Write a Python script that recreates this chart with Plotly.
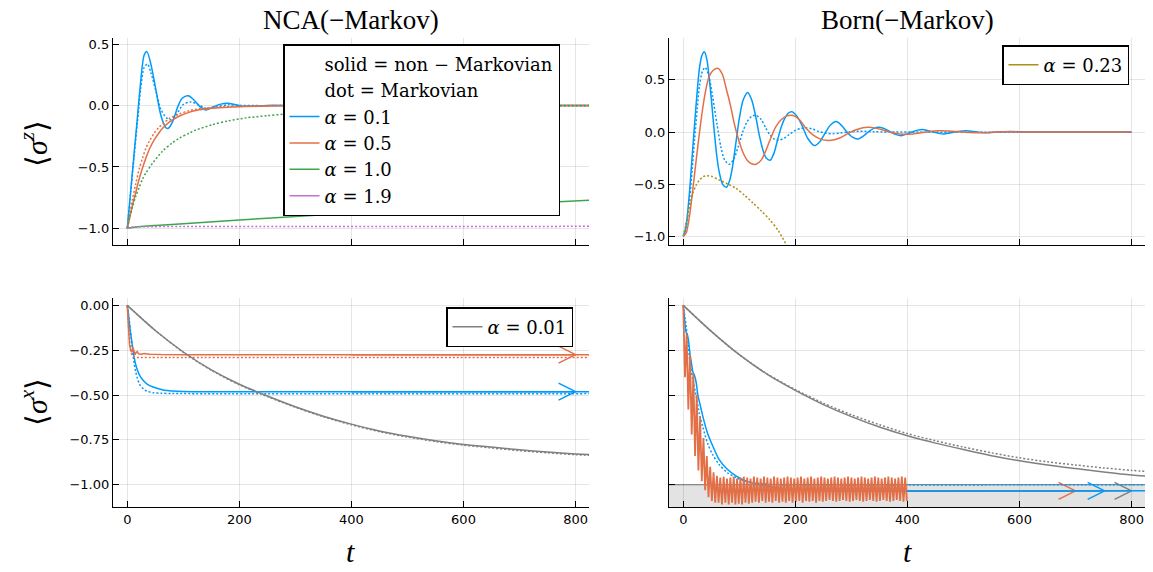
import plotly.graph_objects as go
from plotly.subplots import make_subplots

# ---------------- data ----------------
# Panel 1: NCA, <sigma^z>
nca_z_t_a01 = [0, 6, 12, 18, 24, 30, 35, 42, 51, 60, 69, 73, 81, 90, 98, 109, 119, 130, 140, 152,
               165, 179, 193, 206, 230, 260, 300, 400, 600, 830]
nca_z_a01 = [-1.0, -0.70, -0.40, -0.10, 0.20, 0.41, 0.44, 0.34, 0.13, -0.08, -0.18, -0.185, -0.13,
             -0.01, 0.06, 0.08, 0.046, -0.01, -0.035, -0.012, 0.01, 0.02, 0.008, -0.005, -0.004,
             0.002, 0.0, 0.0, 0.0, 0.0]
nca_z_t_a01_m = [0, 6, 12, 18, 24, 30, 36, 42, 51, 60, 70, 78, 88, 100, 113, 128, 143, 160, 180, 200,
                 230, 300, 830]
nca_z_a01_m = [-1.0, -0.71, -0.42, -0.14, 0.14, 0.31, 0.34, 0.27, 0.12, -0.03, -0.10, -0.115, -0.07,
               0.01, 0.03, 0.005, -0.025, -0.01, 0.008, 0.002, 0.0, 0.0, 0.0]
nca_z_t_a05 = [0, 5, 10, 15, 21, 27, 33, 40, 48, 56, 63, 75, 93, 110, 122, 140, 152, 180, 212, 250,
               320, 400, 830]
nca_z_a05 = [-1.0, -0.90, -0.80, -0.71, -0.60, -0.51, -0.43, -0.35, -0.28, -0.225, -0.185, -0.135,
             -0.085, -0.055, -0.04, -0.028, -0.022, -0.013, -0.008, -0.004, -0.001, 0.0, 0.0]
nca_z_t_a05_m = [0, 5, 9, 15, 21, 27, 33, 40, 48, 56, 63, 75, 93, 110, 122, 152, 180, 212, 260, 830]
nca_z_a05_m = [-1.0, -0.87, -0.77, -0.64, -0.52, -0.43, -0.35, -0.285, -0.225, -0.18, -0.15, -0.105,
               -0.068, -0.042, -0.03, -0.015, -0.009, -0.005, -0.002, 0.0]
nca_z_t_a10 = [0, 20, 50, 100, 200, 300, 400, 500, 600, 700, 830]
nca_z_a10 = [-1.0, -0.988, -0.977, -0.962, -0.932, -0.903, -0.876, -0.85, -0.824, -0.8, -0.77]
nca_z_t_a10_m = [0, 5, 9, 15, 21, 27, 33, 45, 63, 80, 93, 110, 122, 152, 180, 212, 250, 280, 330,
                 400, 500, 600, 700, 830]
nca_z_a10_m = [-1.0, -0.9, -0.83, -0.74, -0.67, -0.6, -0.55, -0.47, -0.37, -0.305, -0.265, -0.225,
               -0.2, -0.155, -0.125, -0.1, -0.082, -0.07, -0.052, -0.035, -0.018, -0.008, -0.004, 0.0]
nca_z_t_a19_m = [0, 10, 30, 100, 300, 500, 830]
nca_z_a19_m = [-1.0, -0.99, -0.987, -0.986, -0.985, -0.985, -0.984]

# Panel 2: Born, <sigma^z>
born_z_t_a01 = [0, 5, 11, 16, 20, 25, 29, 33, 37.5, 42, 46, 50, 55, 60, 64, 70, 77, 83, 88, 94,
                100, 107, 115, 122, 130, 136, 142, 148, 155, 162, 168, 175, 181, 187, 194, 203,
                213, 222, 234, 244, 253, 263, 273, 283, 292, 302, 311, 321, 330, 340, 350, 360,
                370, 380, 389, 398, 408, 418, 427, 437, 447, 456, 466, 485, 505, 524, 544, 563,
                583, 620, 800]
born_z_a01 = [-1.0, -0.9, -0.58, -0.22, 0.06, 0.4, 0.62, 0.73, 0.77, 0.7, 0.53, 0.32, 0.02, -0.24,
              -0.38, -0.5, -0.53, -0.46, -0.33, -0.1, 0.13, 0.31, 0.38, 0.31, 0.13, -0.04, -0.17,
              -0.25, -0.27, -0.2, -0.08, 0.05, 0.13, 0.18, 0.195, 0.15, 0.05, -0.06, -0.13, -0.09,
              -0.01, 0.07, 0.10, 0.06, 0.0, -0.05, -0.067, -0.04, 0.0, 0.035, 0.045, 0.03, 0.0,
              -0.025, -0.035, -0.02, 0.0, 0.018, 0.025, 0.012, 0.0, -0.013, -0.018, 0.0, 0.012,
              0.0, -0.008, 0.0, 0.005, 0.0, 0.0]
born_z_t_a01_m = [0, 5, 11, 16, 20, 25, 29, 34, 39, 45, 52, 60, 67, 74, 82, 90, 98, 106, 114, 122,
                  130, 139, 147, 155, 163, 171, 180, 190, 200, 210, 219, 230, 242, 255, 267, 280,
                  295, 315, 340, 370, 800]
born_z_a01_m = [-1.0, -0.92, -0.66, -0.35, -0.08, 0.23, 0.45, 0.58, 0.62, 0.55, 0.35, 0.08, -0.14,
                -0.27, -0.31, -0.26, -0.14, 0.0, 0.1, 0.15, 0.16, 0.12, 0.04, -0.03, -0.07, -0.077,
                -0.06, -0.02, 0.015, 0.035, 0.04, 0.03, 0.005, -0.012, -0.016, -0.01, 0.0, 0.007,
                0.003, 0.0, 0.0]
born_z_t_a05 = [0, 5, 11, 17, 23, 29, 35, 40, 46, 53, 62.5, 70, 76, 84, 91, 98, 106, 114, 122, 130,
                139, 148, 156, 165, 175, 185, 195, 207, 219, 232, 245, 255, 264, 280, 295, 310,
                329, 345, 362, 378, 392, 410, 430, 455, 480, 510, 540, 570, 620, 800]
born_z_a05 = [-1.0, -0.97, -0.81, -0.55, -0.27, 0.0, 0.24, 0.4, 0.53, 0.59, 0.61, 0.55, 0.43, 0.26,
              0.08, -0.06, -0.19, -0.27, -0.305, -0.31, -0.27, -0.17, -0.06, 0.05, 0.12, 0.155,
              0.16, 0.12, 0.035, -0.03, -0.068, -0.08, -0.08, -0.055, -0.01, 0.025, 0.045, 0.035,
              0.01, -0.012, -0.022, -0.018, -0.003, 0.012, 0.008, -0.005, -0.005, 0.002, 0.0, 0.0]
born_z_t_a023_m = [0, 4, 8, 13, 17, 23, 29, 35, 42, 50, 64, 80, 94, 110, 124, 140, 154, 170, 186, 200]
born_z_a023_m = [-1.0, -0.9, -0.79, -0.67, -0.59, -0.51, -0.46, -0.43, -0.42, -0.425, -0.46, -0.5,
                 -0.54, -0.61, -0.68, -0.76, -0.84, -0.95, -1.1, -1.22]

# Panel 3: NCA, <sigma^x>
nca_x_t_a01 = [0, 3, 5, 8, 12, 15, 18, 22, 29, 36, 46, 56, 66, 80, 100, 130, 830]
nca_x_a01 = [0, -0.08, -0.136, -0.2, -0.285, -0.33, -0.36, -0.39, -0.42, -0.44, -0.455, -0.465,
             -0.473, -0.477, -0.48, -0.481, -0.481]
nca_x_t_a01_m = [0, 3, 6, 9, 12, 15, 18, 22, 29, 36, 46, 60, 80, 110, 830]
nca_x_a01_m = [0, -0.07, -0.15, -0.24, -0.32, -0.37, -0.405, -0.44, -0.467, -0.479, -0.487, -0.49,
               -0.491, -0.492, -0.492]
nca_x_t_a05 = [0, 2, 4, 6, 8, 10, 12, 14, 16, 18, 20, 25, 30, 40, 60, 100, 830]
nca_x_a05 = [0, -0.12, -0.22, -0.25, -0.26, -0.235, -0.255, -0.275, -0.262, -0.258, -0.27, -0.272,
             -0.268, -0.272, -0.274, -0.275, -0.275]
nca_x_t_a05_m = [0, 2, 4, 6, 8, 10, 14, 20, 30, 830]
nca_x_a05_m = [0, -0.1, -0.19, -0.25, -0.275, -0.285, -0.29, -0.29, -0.29, -0.29]
x_t_a001 = [0, 50, 100, 150, 200, 250, 300, 350, 400, 450, 500, 550, 600, 650, 700, 750, 800, 830]
nca_x_a001 = [0, -0.14, -0.26, -0.36, -0.44, -0.505, -0.565, -0.618, -0.662, -0.70, -0.73, -0.755,
              -0.775, -0.79, -0.805, -0.818, -0.828, -0.833]
nca_x_a001_m = [0, -0.14, -0.262, -0.362, -0.443, -0.508, -0.568, -0.621, -0.666, -0.704, -0.734,
                -0.759, -0.779, -0.795, -0.81, -0.822, -0.832, -0.837]
nca_arrow_t = [400, 800]
nca_arrow_y_a05 = -0.275
nca_arrow_y_a01 = -0.481

# Panel 4: Born, <sigma^x>
born_x_t_a01 = [0, 3, 5, 7, 9, 12, 15, 17, 20, 23, 26, 29, 35, 43, 52, 64, 79, 94, 112, 136, 165,
                200, 250, 830]
born_x_a01 = [0, -0.1, -0.15, -0.16, -0.19, -0.27, -0.33, -0.37, -0.39, -0.43, -0.5, -0.54, -0.62,
              -0.71, -0.78, -0.86, -0.915, -0.95, -0.98, -0.998, -1.017, -1.026, -1.033, -1.034]
born_x_t_a01_m = [0, 3, 5, 8, 12, 17, 23, 29, 35, 43, 52, 64, 79, 94, 112, 136, 160, 200, 830]
born_x_a01_m = [0, -0.07, -0.115, -0.2, -0.32, -0.41, -0.505, -0.61, -0.68, -0.766, -0.83, -0.887,
                -0.933, -0.96, -0.98, -0.993, -0.998, -1.0, -1.0]
born_x_a001 = [0, -0.145, -0.275, -0.385, -0.474, -0.553, -0.62, -0.678, -0.727, -0.768, -0.804,
               -0.838, -0.866, -0.89, -0.91, -0.929, -0.946, -0.953]
born_x_a001_m = [0, -0.145, -0.275, -0.383, -0.47, -0.545, -0.61, -0.665, -0.715, -0.755, -0.79,
                 -0.822, -0.85, -0.872, -0.89, -0.906, -0.92, -0.927]
born_x_dt_a05 = 3.0   # sampling step of the fast-oscillating alpha=0.5 curve
born_x_a05 = [
    0.00, -0.40, -0.16, -0.58, -0.27, -0.72, -0.38, -0.84, -0.50, -0.92, -0.62, -0.98, -0.74,
    -1.03, -0.84, -1.07, -0.90, -1.09, -0.93, -1.10, -0.95,
    -1.10, -0.96, -1.11, -0.955, -1.10, -0.965, -1.11, -0.96, -1.10, -0.955, -1.11, -0.965,
    -1.105, -0.96, -1.11, -0.955, -1.10, -0.96, -1.105, -0.965, -1.10, -0.955, -1.095, -0.96,
    -1.10, -0.965, -1.09, -0.955, -1.10, -0.96, -1.095, -0.965, -1.10, -0.955, -1.09, -0.96,
    -1.10, -0.965, -1.095, -0.96, -1.10, -0.955, -1.09, -0.96, -1.10, -0.965, -1.095, -0.96,
    -1.09, -0.955, -1.10, -0.965, -1.09, -0.96, -1.095, -0.955, -1.09, -0.965, -1.10, -0.96,
    -1.09, -0.955, -1.095, -0.96, -1.09, -0.965, -1.085, -0.96, -1.09, -0.955, -1.095, -0.96,
    -1.09, -0.965, -1.085, -0.96, -1.09, -0.955, -1.095, -0.96, -1.09, -0.965, -1.085, -0.96,
    -1.09, -0.955, -1.095, -0.96, -1.09, -0.965, -1.085, -0.96, -1.09, -0.955, -1.095, -0.96,
    -1.09, -0.965, -1.085, -0.96, -1.09, -0.955, -1.095, -0.96, -1.09, -0.965, -1.085, -0.96,
    -1.09, -0.955, -1.095, -0.96, -1.09,
]
born_ground = -1.0
born_arrow_t0 = 400
born_arrow_y = -1.034
born_arrow_end_a05 = 700
born_arrow_end_a01 = 752
born_arrow_end_a001 = 800

x_ticks = [0, 200, 400, 600, 800]
yz_ticks = [-1.0, -0.5, 0.0, 0.5]
yx_ticks = [-1.0, -0.75, -0.5, -0.25, 0.0]

# ---------------- style / layout ----------------
W, H = 1153, 572
BLUE, ORANGE, GREEN, PURPLE, GOLD, GRAY = "#009AFA", "#E36F47", "#3EA44E", "#C371D2", "#AC8E18", "#808080"
LW = 1.5
DOT = "2px,2px"
SERIF = "Liberation Serif"
LEGSERIF = "DejaVu Serif"
SANS = "DejaVu Sans"

XDOM_L = [113 / W, 589 / W]
XDOM_R = [669 / W, 1145 / W]
YDOM_T = [(H - 245) / H, (H - 38) / H]
YDOM_B = [(H - 507) / H, (H - 298) / H]
XR = [-25.5, 824]
YR_TL = [-1.136, 0.551]
YR_TR = [-1.084, 0.902]
YR_B = [-1.124, 0.041]

fig = make_subplots(rows=2, cols=2)


def line(t, y, color, dash=None, name=None, legend=None, shape="spline", row=1, col=1, width=LW):
    ln = dict(color=color, width=width, dash=dash or "solid", shape=shape)
    if shape == "spline":
        ln["smoothing"] = 0.8
    fig.add_trace(go.Scatter(
        x=t, y=y, mode="lines", name=name or "", showlegend=name is not None,
        legend=legend or "legend", line=ln, hoverinfo="skip"), row=row, col=col)


def px_per_unit(dom, rng, total):
    return (dom[1] - dom[0]) * total / (rng[1] - rng[0])


ARROW_BACK_PX, ARROW_HALF_PX = 17, 8.5


def arrow(t0, t1, y, color, xdom, yrng, row, col):
    dx = ARROW_BACK_PX / px_per_unit(xdom, XR, W)
    dy = ARROW_HALF_PX / px_per_unit(YDOM_B, yrng, H)
    fig.add_trace(go.Scatter(
        x=[t0, t1, None, t1 - dx, t1, t1 - dx], y=[y, y, None, y + dy, y, y - dy],
        mode="lines", showlegend=False, line=dict(color=color, width=LW),
        hoverinfo="skip"), row=row, col=col)


# legend-only text entries
for txt in ["solid = non − Markovian", "dot = Markovian"]:
    fig.add_trace(go.Scatter(x=[None], y=[None], mode="lines", name=txt, legend="legend",
                             line=dict(color="rgba(0,0,0,0)", width=LW)), row=1, col=1)

# Panel 1
line(nca_z_t_a01, nca_z_a01, BLUE, name="<i>α</i> = 0.1", legend="legend")
line(nca_z_t_a01_m, nca_z_a01_m, BLUE, DOT)
line(nca_z_t_a05, nca_z_a05, ORANGE, name="<i>α</i> = 0.5", legend="legend")
line(nca_z_t_a05_m, nca_z_a05_m, ORANGE, DOT)
line(nca_z_t_a10, nca_z_a10, GREEN, name="<i>α</i> = 1.0", legend="legend")
line(nca_z_t_a10_m, nca_z_a10_m, GREEN, DOT)
line([None], [None], PURPLE, name="<i>α</i> = 1.9", legend="legend")
line(nca_z_t_a19_m, nca_z_a19_m, PURPLE, DOT)

# Panel 2
line(born_z_t_a01, born_z_a01, BLUE, row=1, col=2)
line(born_z_t_a01_m, born_z_a01_m, BLUE, DOT, row=1, col=2)
line(born_z_t_a05, born_z_a05, ORANGE, row=1, col=2)
line([None], [None], GOLD, name="<i>α</i> = 0.23", legend="legend2", row=1, col=2)
line(born_z_t_a023_m, born_z_a023_m, GOLD, DOT, row=1, col=2)

# Panel 3
arrow(nca_arrow_t[0], nca_arrow_t[1], nca_arrow_y_a01, BLUE, XDOM_L, YR_B, 2, 1)
arrow(nca_arrow_t[0], nca_arrow_t[1], nca_arrow_y_a05, ORANGE, XDOM_L, YR_B, 2, 1)
line(nca_x_t_a01, nca_x_a01, BLUE, row=2, col=1)
line(nca_x_t_a01_m, nca_x_a01_m, BLUE, DOT, row=2, col=1)
line(nca_x_t_a05, nca_x_a05, ORANGE, shape="linear", row=2, col=1)
line(nca_x_t_a05_m, nca_x_a05_m, ORANGE, DOT, row=2, col=1)
line(x_t_a001, nca_x_a001, GRAY, name="<i>α</i> = 0.01", legend="legend3", row=2, col=1)
line(x_t_a001, nca_x_a001_m, GRAY, DOT, row=2, col=1)

# Panel 4
arrow(born_arrow_t0, born_arrow_end_a05, born_arrow_y, ORANGE, XDOM_R, YR_B, 2, 2)
arrow(born_arrow_t0, born_arrow_end_a01, born_arrow_y, BLUE, XDOM_R, YR_B, 2, 2)
arrow(born_arrow_t0, born_arrow_end_a001, born_arrow_y, GRAY, XDOM_R, YR_B, 2, 2)
line(born_x_t_a01, born_x_a01, BLUE, row=2, col=2)
line(born_x_t_a01_m, born_x_a01_m, BLUE, DOT, row=2, col=2)
line(x_t_a001, born_x_a001, GRAY, row=2, col=2)
line(x_t_a001, born_x_a001_m, GRAY, DOT, row=2, col=2)
line([i * born_x_dt_a05 for i in range(len(born_x_a05))], born_x_a05, ORANGE, shape="linear",
     row=2, col=2, width=1.8)

# shaded region below the ground-state value
fig.add_shape(type="rect", xref="x4 domain", yref="y4", x0=0, x1=1, y0=YR_B[0], y1=born_ground,
              fillcolor="#e3e3e3", line_width=0, layer="below")
fig.add_shape(type="line", xref="x4 domain", yref="y4", x0=0, x1=1, y0=born_ground, y1=born_ground,
              line=dict(color="#7a7a7a", width=1), layer="below")

axis_common = dict(showline=True, linecolor="black", linewidth=1.3, mirror=False,
                   ticks="inside", ticklen=6, tickwidth=1, tickcolor="black",
                   showgrid=True, gridcolor="rgba(0,0,0,0.1)", gridwidth=1, zeroline=False,
                   automargin=False, tickfont=dict(family=SANS, size=13, color="black"))
xa = dict(axis_common, range=XR, tickvals=x_ticks)
fig.update_layout(
    xaxis=dict(xa, domain=XDOM_L, showticklabels=False),
    xaxis2=dict(xa, domain=XDOM_R, showticklabels=False),
    xaxis3=dict(xa, domain=XDOM_L),
    xaxis4=dict(xa, domain=XDOM_R),
    yaxis=dict(axis_common, domain=YDOM_T, range=YR_TL, tickvals=yz_ticks, tickformat=".1f"),
    yaxis2=dict(axis_common, domain=YDOM_T, range=YR_TR, tickvals=yz_ticks, tickformat=".1f"),
    yaxis3=dict(axis_common, domain=YDOM_B, range=YR_B, tickvals=yx_ticks, tickformat=".2f"),
    yaxis4=dict(axis_common, domain=YDOM_B, range=YR_B, tickvals=yx_ticks, showticklabels=False),
)

leg_common = dict(xanchor="left", yanchor="top", bgcolor="white", bordercolor="black",
                  borderwidth=1.5, font=dict(family=LEGSERIF, size=18, color="black"),
                  tracegroupgap=0, itemclick=False, itemdoubleclick=False)
fig.update_layout(
    legend=dict(leg_common, x=283 / W, y=(H - 44) / H),
    legend2=dict(leg_common, x=1002 / W, y=(H - 45) / H),
    legend3=dict(leg_common, x=446 / W, y=(H - 307) / H),
)

ann = []
for txt, x in [("NCA(−Markov)", 351), ("Born(−Markov)", 907)]:
    ann.append(dict(text=txt, x=x / W, y=(H - 20) / H, xref="paper", yref="paper",
                    showarrow=False, font=dict(family=SERIF, size=27, color="black"),
                    xanchor="center", yanchor="middle"))
for txt, y in [("⟨<i>σ</i><sup><i>z</i></sup>⟩", 144), ("⟨<i>σ</i><sup><i>x</i></sup>⟩", 402)]:
    ann.append(dict(text=txt, x=34 / W, y=(H - y) / H, xref="paper", yref="paper",
                    showarrow=False, textangle=-90, font=dict(family=SERIF, size=30, color="black"),
                    xanchor="center", yanchor="middle"))
for x in [351, 907]:
    ann.append(dict(text="<i>t</i>", x=x / W, y=(H - 551) / H, xref="paper", yref="paper",
                    showarrow=False, font=dict(family=SERIF, size=30, color="black"),
                    xanchor="center", yanchor="middle"))

fig.update_layout(width=W, height=H, margin=dict(l=0, r=0, t=0, b=0, autoexpand=False),
                  paper_bgcolor="white", plot_bgcolor="white", annotations=ann)

fig.write_html("out.html", config={"displayModeBar": False},
               post_script="document.body.style.margin='0px';"
                           "document.body.style.overflow='hidden';")
